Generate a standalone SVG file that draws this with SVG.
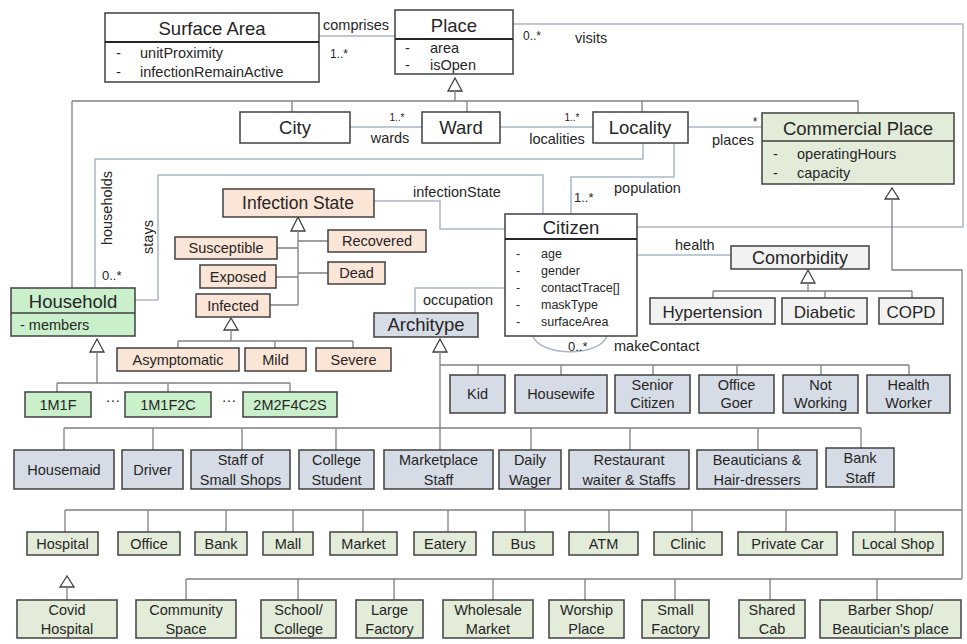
<svg xmlns="http://www.w3.org/2000/svg" width="967" height="644" viewBox="0 0 967 644">
<style>
text{font-family:"Liberation Sans",Arial,sans-serif;fill:#262626}
.h{font-size:18.5px;text-anchor:middle}
.s{font-size:14.5px;text-anchor:middle}
.a{font-size:14.5px}
.c{font-size:12.5px}
.l{font-size:14.5px}
.m{font-size:11px}
.b{stroke:#404040;stroke-width:1.5}
.wh{fill:#fff}
.pe{fill:#fbe5d6}
.gy{fill:#f2f2f2}
.bl{fill:#d6dce5}
.gr{fill:#c9f0cb}
.lg{fill:#e2ecd9}
.gen{stroke:#808080;stroke-width:1.3;fill:none}
.asc{stroke:#aab7c8;stroke-width:1.5;fill:none}
.tri{fill:#fff;stroke:#404040;stroke-width:1.3}
</style>
<rect width="967" height="644" fill="#fff"/>

<g id="connectors">
  <!-- Place generalization -->
  <polygon class="tri" points="455,78 448,91 462,91"/>
  <path class="gen" d="M455,91V101M72,101H858V113M72,101V288M292,101V112M467,101V112M642,101V112"/>
  <!-- associations -->
  <path class="asc" d="M319,36H395"/>
  <path class="asc" d="M513,24H963V227H637"/>
  <path class="asc" d="M350,127H422M500,127H593M688,127H762"/>
  <path class="asc" d="M643,143V159H95V288"/>
  <path class="asc" d="M135,300H158V175H543V214"/>
  <path class="asc" d="M674,143V177H571V214"/>
  <path class="asc" d="M374,201H440V229H505"/>
  <path class="asc" d="M415,313V288H505"/>
  <path class="asc" d="M637,255H731"/>
  <path class="asc" d="M533,336C540,357 600,357 607,336"/>
  <!-- Commercial Place generalization -->
  <polygon class="tri" points="892,188 885,199 899,199"/>
  <path class="gen" d="M892,199V270H962V579M65,510H962M186,579H962"/>
  <path class="gen" d="M65,510V532M148,510V532M226,510V532M293,510V532M363,510V532M448,510V532M525,510V532M609,510V532M692,510V532M786,510V532M895,510V532"/>
  <path class="gen" d="M186,579V600M298,579V600M394,579V600M493,579V600M585,579V600M675,579V600M770,579V600M877,579V600"/>
  <polygon class="tri" points="67,576 60,587 74,587"/>
  <path class="gen" d="M67,587V600"/>
  <!-- Infection State generalization -->
  <polygon class="tri" points="298,217 291,231 305,231"/>
  <path class="gen" d="M298,231V305M277,248H298M276,277H298M270,305H298M298,241H328M298,273H328"/>
  <polygon class="tri" points="231,318 224,330 238,330"/>
  <path class="gen" d="M231,330V341M178,341H353M178,341V348M275,341V348M353,341V348"/>
  <!-- Household generalization -->
  <polygon class="tri" points="97,339 90,352 104,352"/>
  <path class="gen" d="M97,352V383M57,383H290M57,383V392M168,383V392M290,383V392"/>
  <!-- Architype generalization -->
  <polygon class="tri" points="440,339 433,352 447,352"/>
  <path class="gen" d="M440,352V450M440,365H909M478,365V375M561,365V375M653,365V375M737,365V375M821,365V375M909,365V375"/>
  <path class="gen" d="M64,428H861M64,428V450M153,428V450M242,428V450M336,428V450M531,428V450M630,428V450M758,428V450M861,428V448"/>
  <!-- Comorbidity generalization -->
  <polygon class="tri" points="808,270 801,283 815,283"/>
  <path class="gen" d="M808,283V291M713,291H912M713,291V298M825,291V298M912,291V298"/>
  <!-- labels -->
  <text class="l" x="323" y="30">comprises</text>
  <text class="m" x="330" y="58" style="font-size:12px">1..*</text>
  <text class="m" x="523" y="40" style="font-size:12px">0..*</text>
  <text class="l" x="575" y="43">visits</text>
  <text class="m" x="397" y="121" text-anchor="middle" style="font-size:10px">1..*</text>
  <text class="l" x="390" y="143" text-anchor="middle">wards</text>
  <text class="m" x="572" y="121" text-anchor="middle" style="font-size:10px">1..*</text>
  <text class="l" x="557" y="144" text-anchor="middle">localities</text>
  <text class="m" x="755" y="126" text-anchor="middle" style="font-size:12px">*</text>
  <text class="l" x="733" y="145" text-anchor="middle">places</text>
  <text class="l" transform="translate(112,208) rotate(-90)" text-anchor="middle">households</text>
  <text class="l" transform="translate(153,237) rotate(-90)" text-anchor="middle">stays</text>
  <text class="m" x="102" y="280" style="font-size:13px">0..*</text>
  <text class="l" x="413" y="197">infectionState</text>
  <text class="m" x="574" y="202" style="font-size:13px">1..*</text>
  <text class="l" x="614" y="193">population</text>
  <text class="l" x="675" y="250">health</text>
  <text class="l" x="423" y="305">occupation</text>
  <text class="m" x="568" y="351" style="font-size:13px">0..*</text>
  <text class="l" x="614" y="351">makeContact</text>
  <text class="s" x="113" y="405">···</text>
  <text class="s" x="229" y="405">···</text>
</g>

<g id="surface-area">
  <rect class="b wh" x="105" y="13" width="214" height="69"/>
  <path d="M105,42H319" stroke="#262626" stroke-width="2"/>
  <text class="h" x="212" y="35">Surface Area</text>
  <text class="a" x="116" y="58">-</text><text class="a" x="140" y="58">unitProximity</text>
  <text class="a" x="116" y="77">-</text><text class="a" x="140" y="77">infectionRemainActive</text>
</g>
<g id="place">
  <rect class="b wh" x="395" y="10" width="118" height="64"/>
  <path d="M395,39H513" stroke="#262626" stroke-width="2"/>
  <text class="h" x="454" y="32">Place</text>
  <text class="a" x="405" y="53">-</text><text class="a" x="430" y="53">area</text>
  <text class="a" x="405" y="70">-</text><text class="a" x="430" y="70">isOpen</text>
</g>
<g id="city"><rect class="b wh" x="240" y="112" width="110" height="31"/><text class="h" x="295" y="134">City</text></g>
<g id="ward"><rect class="b wh" x="422" y="112" width="78" height="31"/><text class="h" x="461" y="134">Ward</text></g>
<g id="locality"><rect class="b wh" x="593" y="112" width="95" height="31"/><text class="h" x="640" y="134">Locality</text></g>
<g id="commercial-place">
  <rect class="b lg" x="762" y="113" width="192" height="71"/>
  <path d="M762,141H954" stroke="#404040" stroke-width="1.5"/>
  <text class="h" x="858" y="135">Commercial Place</text>
  <text class="a" x="773" y="159">-</text><text class="a" x="797" y="159">operatingHours</text>
  <text class="a" x="773" y="178">-</text><text class="a" x="797" y="178">capacity</text>
</g>
<g id="household">
  <rect class="b gr" x="11" y="288" width="124" height="48"/>
  <path d="M11,313H135" stroke="#404040" stroke-width="1.5"/>
  <text class="h" x="73" y="308">Household</text>
  <text class="a" x="20" y="330">- members</text>
</g>
<g id="h-1m1f"><rect class="b gr" x="25" y="392" width="66" height="25"/><text class="s" x="58" y="410">1M1F</text></g>
<g id="h-1m1f2c"><rect class="b gr" x="125" y="392" width="86" height="25"/><text class="s" x="168" y="410">1M1F2C</text></g>
<g id="h-2m2f4c2s"><rect class="b gr" x="243" y="392" width="94" height="25"/><text class="s" x="290" y="410">2M2F4C2S</text></g>

<g id="infection-state"><rect class="b pe" x="223" y="189" width="151" height="28"/><text class="h" x="298" y="209" style="font-size:17.5px">Infection State</text></g>
<g id="susceptible"><rect class="b pe" x="175" y="237" width="102" height="22"/><text class="s" x="226" y="253">Susceptible</text></g>
<g id="exposed"><rect class="b pe" x="200" y="265" width="76" height="23"/><text class="s" x="238" y="282">Exposed</text></g>
<g id="infected"><rect class="b pe" x="196" y="294" width="74" height="23"/><text class="s" x="233" y="311">Infected</text></g>
<g id="recovered"><rect class="b pe" x="328" y="230" width="98" height="22"/><text class="s" x="377" y="246">Recovered</text></g>
<g id="dead"><rect class="b pe" x="328" y="262" width="57" height="22"/><text class="s" x="356.5" y="278">Dead</text></g>
<g id="asymptomatic"><rect class="b pe" x="117" y="348" width="122" height="23"/><text class="s" x="178" y="365">Asymptomatic</text></g>
<g id="mild"><rect class="b pe" x="245" y="348" width="61" height="23"/><text class="s" x="275.5" y="365">Mild</text></g>
<g id="severe"><rect class="b pe" x="316" y="348" width="75" height="23"/><text class="s" x="353.5" y="365">Severe</text></g>

<g id="citizen">
  <rect class="b wh" x="505" y="214" width="132" height="122"/>
  <path d="M505,239H637" stroke="#262626" stroke-width="2"/>
  <text class="h" x="571" y="234">Citizen</text>
  <text class="c" x="516" y="258">-</text><text class="c" x="541" y="258">age</text>
  <text class="c" x="516" y="275">-</text><text class="c" x="541" y="275">gender</text>
  <text class="c" x="516" y="292">-</text><text class="c" x="541" y="292">contactTrace[]</text>
  <text class="c" x="516" y="309">-</text><text class="c" x="541" y="309">maskType</text>
  <text class="c" x="516" y="326">-</text><text class="c" x="541" y="326">surfaceArea</text>
</g>

<g id="comorbidity"><rect class="b gy" x="731" y="246" width="138" height="23"/><text class="h" x="800" y="264" style="font-size:18px">Comorbidity</text></g>
<g id="hypertension"><rect class="b gy" x="650" y="298" width="125" height="26"/><text class="h" x="712.5" y="318" style="font-size:17px">Hypertension</text></g>
<g id="diabetic"><rect class="b gy" x="782" y="298" width="85" height="26"/><text class="h" x="824.5" y="318" style="font-size:17px">Diabetic</text></g>
<g id="copd"><rect class="b gy" x="879" y="298" width="64" height="26"/><text class="h" x="911" y="318" style="font-size:17px">COPD</text></g>

<g id="architype"><rect class="b bl" x="374" y="313" width="104" height="24"/><text class="h" x="426" y="331">Architype</text></g>
<g id="kid"><rect class="b bl" x="450" y="375" width="55" height="38"/><text class="s" x="477.5" y="399">Kid</text></g>
<g id="housewife"><rect class="b bl" x="515" y="375" width="92" height="38"/><text class="s" x="561" y="399">Housewife</text></g>
<g id="senior-citizen"><rect class="b bl" x="615" y="375" width="75" height="38"/><text class="s" x="652.5" y="390">Senior</text><text class="s" x="652.5" y="408">Citizen</text></g>
<g id="office-goer"><rect class="b bl" x="699" y="375" width="75" height="38"/><text class="s" x="736.5" y="390">Office</text><text class="s" x="736.5" y="408">Goer</text></g>
<g id="not-working"><rect class="b bl" x="783" y="375" width="75" height="38"/><text class="s" x="820.5" y="390">Not</text><text class="s" x="820.5" y="408">Working</text></g>
<g id="health-worker"><rect class="b bl" x="867" y="375" width="83" height="38"/><text class="s" x="908.5" y="390">Health</text><text class="s" x="908.5" y="408">Worker</text></g>
<g id="housemaid"><rect class="b bl" x="14" y="450" width="100" height="39"/><text class="s" x="64" y="475">Housemaid</text></g>
<g id="driver"><rect class="b bl" x="122" y="450" width="61" height="39"/><text class="s" x="152.5" y="475">Driver</text></g>
<g id="staff-small-shops"><rect class="b bl" x="191" y="450" width="99" height="39"/><text class="s" x="240.5" y="465">Staff of</text><text class="s" x="240.5" y="485">Small Shops</text></g>
<g id="college-student"><rect class="b bl" x="299" y="450" width="75" height="39"/><text class="s" x="336.5" y="465">College</text><text class="s" x="336.5" y="485">Student</text></g>
<g id="marketplace-staff"><rect class="b bl" x="384" y="450" width="109" height="39"/><text class="s" x="438.5" y="465">Marketplace</text><text class="s" x="438.5" y="485">Staff</text></g>
<g id="daily-wager"><rect class="b bl" x="499" y="450" width="62" height="39"/><text class="s" x="530" y="465">Daily</text><text class="s" x="530" y="485">Wager</text></g>
<g id="restaurant"><rect class="b bl" x="569" y="450" width="120" height="39"/><text class="s" x="629" y="465">Restaurant</text><text class="s" x="629" y="485">waiter &amp; Staffs</text></g>
<g id="beauticians"><rect class="b bl" x="697" y="450" width="120" height="39"/><text class="s" x="757" y="465">Beauticians &amp;</text><text class="s" x="757" y="485">Hair-dressers</text></g>
<g id="bank-staff"><rect class="b bl" x="826" y="448" width="68" height="39"/><text class="s" x="860" y="463">Bank</text><text class="s" x="860" y="483">Staff</text></g>

<g id="hospital"><rect class="b lg" x="27" y="532" width="71" height="23"/><text class="s" x="62.5" y="549">Hospital</text></g>
<g id="office"><rect class="b lg" x="118" y="532" width="62" height="23"/><text class="s" x="149" y="549">Office</text></g>
<g id="bank"><rect class="b lg" x="195" y="532" width="52" height="23"/><text class="s" x="221" y="549">Bank</text></g>
<g id="mall"><rect class="b lg" x="263" y="532" width="50" height="23"/><text class="s" x="288" y="549">Mall</text></g>
<g id="market"><rect class="b lg" x="330" y="532" width="67" height="23"/><text class="s" x="363.5" y="549">Market</text></g>
<g id="eatery"><rect class="b lg" x="414" y="532" width="62" height="23"/><text class="s" x="445" y="549">Eatery</text></g>
<g id="bus"><rect class="b lg" x="493" y="532" width="60" height="23"/><text class="s" x="523" y="549">Bus</text></g>
<g id="atm"><rect class="b lg" x="569" y="532" width="69" height="23"/><text class="s" x="603.5" y="549">ATM</text></g>
<g id="clinic"><rect class="b lg" x="654" y="532" width="68" height="23"/><text class="s" x="688" y="549">Clinic</text></g>
<g id="private-car"><rect class="b lg" x="738" y="532" width="99" height="23"/><text class="s" x="787.5" y="549">Private Car</text></g>
<g id="local-shop"><rect class="b lg" x="853" y="532" width="90" height="23"/><text class="s" x="898" y="549">Local Shop</text></g>

<g id="covid-hospital"><rect class="b lg" x="17" y="600" width="100" height="38"/><text class="s" x="67" y="615">Covid</text><text class="s" x="67" y="634">Hospital</text></g>
<g id="community-space"><rect class="b lg" x="136" y="600" width="100" height="38"/><text class="s" x="186" y="615">Community</text><text class="s" x="186" y="634">Space</text></g>
<g id="school-college"><rect class="b lg" x="261" y="600" width="75" height="38"/><text class="s" x="298.5" y="615">School/</text><text class="s" x="298.5" y="634">College</text></g>
<g id="large-factory"><rect class="b lg" x="356" y="600" width="67" height="38"/><text class="s" x="389.5" y="615">Large</text><text class="s" x="389.5" y="634">Factory</text></g>
<g id="wholesale-market"><rect class="b lg" x="443" y="600" width="90" height="38"/><text class="s" x="488" y="615">Wholesale</text><text class="s" x="488" y="634">Market</text></g>
<g id="worship-place"><rect class="b lg" x="549" y="600" width="75" height="38"/><text class="s" x="586.5" y="615">Worship</text><text class="s" x="586.5" y="634">Place</text></g>
<g id="small-factory"><rect class="b lg" x="642" y="600" width="67" height="38"/><text class="s" x="675.5" y="615">Small</text><text class="s" x="675.5" y="634">Factory</text></g>
<g id="shared-cab"><rect class="b lg" x="739" y="600" width="66" height="38"/><text class="s" x="772" y="615">Shared</text><text class="s" x="772" y="634">Cab</text></g>
<g id="barber-shop"><rect class="b lg" x="820" y="600" width="141" height="38"/><text class="s" x="890.5" y="615">Barber Shop/</text><text class="s" x="890.5" y="634">Beautician's place</text></g>
</svg>
